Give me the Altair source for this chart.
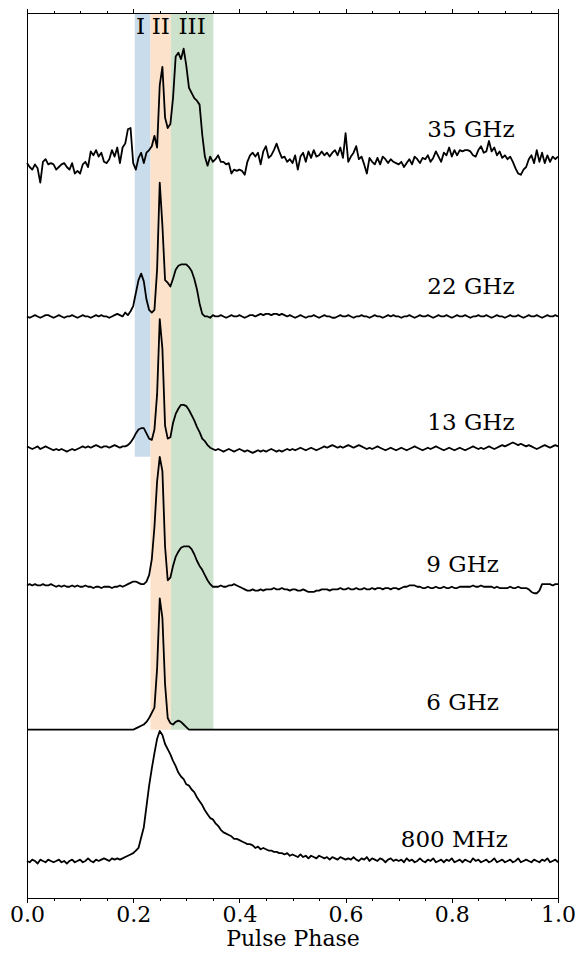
import altair as alt
import pandas as pd

# ---------------- data ----------------
N_BINS = 201
PHASE = [round(i * 0.005, 3) for i in range(N_BINS)]

PROFILE_NAMES = ["35 GHz", "22 GHz", "13 GHz", "9 GHz", "6 GHz", "800 MHz"]
# vertical offset of each stacked profile (same units as the intensities)
OFFSETS = [573, 455, 354, 248, 137, 36]

# intensities (main peak ~100)
P_35GHZ = [
    0, -3, -5, -1, -4, -15, 1, 3, -1, 0,
    -1, -5, -3, -1, 0, -3, -5, 0, -8, -6,
    -8, -1, 1, -3, 9, 6, 10, 5, 8, 1,
    0, 3, 10, 5, 12, 0, 12, 15, 26, 27,
    0, -5, 4, 8, 0, 8, 10, 13, 21, 12,
    60, 74, 35, 27, 30, 50, 82, 85, 80, 88,
    75, 58, 54, 50, 48, 45, 22, 5, -2, 5,
    1, 3, 6, 1, 1, -1, 0, -8, -5, -6,
    -5, -6, -9, 1, 6, 8, 5, 8, -1, 9,
    13, 4, 6, 10, 15, 9, 4, 5, 1, 3,
    0, 6, -5, 5, 8, 1, 9, 4, 10, 5,
    6, 9, 6, 8, 5, 8, 10, 6, 12, 4,
    23, 1, 5, 8, 13, 3, 5, -1, -8, 4,
    1, -1, 4, -1, 5, 3, 0, 3, 1, 0,
    -1, 1, -3, 0, 3, -1, 5, 3, 0, 4,
    3, 6, 1, 4, 9, 5, 1, 8, 6, 12,
    5, 10, 6, 10, 9, 10, 10, 9, 6, 5,
    10, 13, 8, 9, 17, 9, 12, 6, 9, 4,
    6, 3, 5, 1, -4, -8, -9, -5, -3, 3,
    6, 0, 10, 1, 8, 0, 6, 1, 5, 3,
    5,
]
P_22GHZ = [
    0, -1, 0, 1, 0, -1, 0, 1, 1, 0,
    -1, 0, 1, 0, -1, 0, 0, 1, 0, -1,
    0, 1, 0, 0, -1, 0, 1, 0, 1, 0,
    0, -1, 0, 1, 2, 1, 0, 3, 1, 4,
    8, 18, 28, 33, 27, 13, 5, 3, 5, 36,
    103, 70, 28, 26, 23, 29, 36, 39, 40, 40,
    40, 38, 35, 29, 21, 10, 2, 0, 0, -1,
    1, 0, 0, 1, 0, -1, 0, 1, 0, 0,
    1, 0, -1, 0, 1, 1, 0, 1, 2, 1,
    2, 2, 1, 2, 2, 1, 2, 1, 0, 1,
    0, -1, 0, 1, 0, -1, 0, 0, 1, 0,
    -1, 0, 1, 0, 0, -1, -1, 0, 1, 0,
    0, 1, 0, -1, 0, 0, 1, 0, 0, -1,
    0, 1, 0, 0, -1, 0, 1, 0, 1, 0,
    0, -1, 0, 0, 1, 0, -1, 0, 1, 0,
    0, 1, 0, -1, 0, 1, 0, 0, 1, 0,
    -1, 0, 1, 0, 0, 1, 0, -1, 0, 0,
    1, 0, 0, 1, 0, -1, 0, 1, 0, 0,
    -1, 0, 1, 0, 0, 1, 0, -1, 0, 1,
    0, 0, 1, 0, -1, 0, 1, 0, 0, 1,
    0,
]
P_13GHZ = [
    1, 0, -1, 0, 1, -1, 0, 1, 0, -1,
    -2, -1, -2, -1, -2, -3, -2, -1, -2, -1,
    0, 1, 0, 1, 0, 1, 2, 1, 0, 1,
    1, 0, 1, 2, 1, 0, 1, 1, 2, 4,
    7, 11, 14, 15, 15, 11, 7, 6, 14, 41,
    99, 76, 17, 7, 8, 19, 26, 30, 33, 33,
    32, 29, 25, 21, 16, 12, 7, 5, 2, 0,
    -1, -2, -1, -2, -3, -2, -1, -2, -3, -2,
    -1, -2, -3, -2, -3, -4, -3, -2, -3, -2,
    -3, -2, -1, -2, -3, -2, -3, -2, -1, -2,
    -1, -2, -1, 0, -1, -2, -1, 0, -1, -2,
    -1, 0, 1, 0, 1, 2, 1, 0, 1, 0,
    1, 2, 1, 0, 1, 2, 1, 0, -1, 0,
    -1, 0, 1, 0, -1, -2, -1, 0, -1, -2,
    -1, 0, -1, -2, -1, 0, 1, 0, -1, -2,
    -1, 0, -1, 0, 1, 0, -1, -2, -1, 0,
    -1, -2, -1, 0, -1, -2, -1, 0, 1, 0,
    -1, 0, -1, 0, 1, 0, -1, 0, 1, 2,
    1, 2, 3, 4, 3, 2, 3, 2, 1, 2,
    1, 0, -1, 0, 1, 2, 1, 0, 1, 2,
    1,
]
P_9GHZ = [
    0, 1, 0, 1, 0, 0, 1, 0, 0, 1,
    0, -1, 0, -1, 0, -1, -1, 0, -1, 0,
    -1, -1, 0, -1, -1, -2, -1, -1, -2, -1,
    -1, -1, -2, -1, -1, 0, -1, 0, 1, 2,
    3, 3, 2, 1, 1, 3, 8, 20, 45, 80,
    99, 88, 30, 4, 6, 15, 22, 26, 29, 30,
    30, 30, 28, 24, 19, 15, 12, 8, 4, 1,
    -1, -1, -1, 0, -1, -1, 0, 0, 1, 0,
    -1, -2, -3, -4, -4, -3, -4, -4, -3, -4,
    -3, -3, -3, -2, -3, -3, -2, -3, -3, -4,
    -3, -3, -4, -4, -3, -4, -5, -5, -5, -4,
    -4, -3, -3, -3, -4, -3, -3, -3, -2, -3,
    -3, -2, -3, -3, -2, -3, -3, -2, -3, -3,
    -2, -3, -2, -2, -3, -2, -2, -3, -2, -2,
    -3, -2, -1, -1, 0, 0, 0, -1, -1, -2,
    -2, -1, -2, -2, -1, -2, -2, -1, -2, -2,
    -1, -2, -2, -1, -1, -1, -1, -1, 0, -1,
    -1, 0, -1, -1, -1, -1, -2, -1, -2, -2,
    -2, -2, -1, -2, -2, -1, -2, -2, -2, -3,
    -5, -6, -6, -4, 1, 1, 1, 1, 0, 1,
    1,
]
P_6GHZ = [
    0, 0, 0, 0, 0, 0, 0, 0, 0, 0,
    0, 0, 0, 0, 0, 0, 0, 0, 0, 0,
    0, 0, 0, 0, 0, 0, 0, 0, 0, 0,
    0, 0, 0, 0, 0, 0, 0, 0, 0, 0,
    0, 1, 2, 3, 4, 6, 9, 13, 17, 47,
    101, 86, 35, 9, 5, 4, 6, 7, 6, 4,
    2, 0, 0, 0, 0, 0, 0, 0, 0, 0,
    0, 0, 0, 0, 0, 0, 0, 0, 0, 0,
    0, 0, 0, 0, 0, 0, 0, 0, 0, 0,
    0, 0, 0, 0, 0, 0, 0, 0, 0, 0,
    0, 0, 0, 0, 0, 0, 0, 0, 0, 0,
    0, 0, 0, 0, 0, 0, 0, 0, 0, 0,
    0, 0, 0, 0, 0, 0, 0, 0, 0, 0,
    0, 0, 0, 0, 0, 0, 0, 0, 0, 0,
    0, 0, 0, 0, 0, 0, 0, 0, 0, 0,
    0, 0, 0, 0, 0, 0, 0, 0, 0, 0,
    0, 0, 0, 0, 0, 0, 0, 0, 0, 0,
    0, 0, 0, 0, 0, 0, 0, 0, 0, 0,
    0, 0, 0, 0, 0, 0, 0, 0, 0, 0,
    0, 0, 0, 0, 0, 0, 0, 0, 0, 0,
    0,
]
P_800MHZ = [
    0, -1, 1, 0, -2, 1, 0, -1, 1, 0,
    -1, 0, 1, -1, 0, -2, 0, 1, -1, 0,
    1, -1, 0, 2, 0, -1, 1, 0, 1, 2,
    1, 0, 2, 1, 2, 1, 2, 3, 4, 5,
    6, 8, 10, 18, 26, 42, 58, 71, 83, 94,
    100, 97, 90, 86, 82, 77, 73, 68, 65, 63,
    59, 58, 55, 53, 49, 46, 43, 39, 36, 33,
    32, 29, 27, 24, 22, 21, 20, 19, 17, 17,
    16, 15, 14, 13, 13, 12, 10, 11, 9, 10,
    9, 8, 8, 7, 7, 6, 6, 5, 6, 4,
    5, 4, 3, 5, 3, 4, 2, 4, 3, 2,
    4, 3, 2, 3, 1, 3, 2, 1, 3, 2,
    1, 2, 1, 3, 1, 0, 2, 1, 3, 0,
    2, 1, 0, 2, 1, -1, 1, 2, 0, 1,
    0, 1, -1, 2, 0, 1, -1, 0, 2, 0,
    -1, 1, 0, 2, -1, 0, 1, -1, 1, 0,
    2, -1, 0, 1, -1, 1, 0, -1, 2, 0,
    1, -1, 0, 1, -1, 0, 2, -1, 0, 1,
    -1, 0, 1, -1, 0, 2, -1, 0, 1, 0,
    -1, 1, 0, -1, 1, 0, 2, -1, 0, 1,
    -1,
]
PROFILES = [P_35GHZ, P_22GHZ, P_13GHZ, P_9GHZ, P_6GHZ, P_800MHZ]

# frequency labels
LABEL_X = [0.754, 0.754, 0.754, 0.752, 0.752, 0.704]
LABEL_Y = [593, 472, 368, 258, 152, 47]

# shaded components
REGION_NAMES = ["I", "II", "III"]
REGION_START = [0.203, 0.2325, 0.271]
REGION_END = [0.2325, 0.271, 0.351]
REGION_BOTTOM = [347, 137, 137]
REGION_COLORS = ["#c9dcec", "#fde2cb", "#cde2cc"]
ROMAN_X = [0.214, 0.252, 0.311]
ROMAN_Y = [672, 672, 672]

TICK_VALUES = [round(i * 0.05, 2) for i in range(21)]
Y_MIN = 7.5
Y_MAX = 688.5

# ---------------- build ----------------
rows = []
for name, off, vals in zip(PROFILE_NAMES, OFFSETS, PROFILES):
    for ph, v in zip(PHASE, vals):
        rows.append({"profile": name, "phase": ph, "flux": off + v})
df = pd.DataFrame(rows)

regions = pd.DataFrame({
    "region": REGION_NAMES,
    "start": REGION_START,
    "end": REGION_END,
    "bottom": REGION_BOTTOM,
    "top": [Y_MAX] * len(REGION_NAMES),
})
labels_df = pd.DataFrame({"text": PROFILE_NAMES, "x": LABEL_X, "y": LABEL_Y})
roman_df = pd.DataFrame({"text": REGION_NAMES, "x": ROMAN_X, "y": ROMAN_Y})

FONT = "DejaVu Serif"
x_scale = alt.Scale(domain=[0, 1], nice=False, zero=False)
y_scale = alt.Scale(domain=[Y_MIN, Y_MAX], nice=False, zero=False)

major_test = "abs(datum.value * 5 - round(datum.value * 5)) < 0.001"
tick_size = {"condition": {"test": major_test, "value": 4.5}, "value": 2.5}

bottom_axis = alt.Axis(
    orient="bottom", values=TICK_VALUES,
    labelExpr=major_test + " ? format(datum.value, '.1f') : ''",
    tickSize=tick_size, tickColor="black", tickWidth=1,
    domain=True, domainColor="black", domainWidth=1, grid=False,
    labelFont=FONT, labelFontSize=22, labelColor="black",
    labelPadding=2, labelFlush=False, labelOverlap=False,
    title="Pulse Phase", titleFont=FONT, titleFontSize=22,
    titleFontWeight="normal", titleColor="black", titlePadding=3,
    zindex=1,
)
top_axis = alt.Axis(
    orient="top", values=TICK_VALUES, labels=False,
    tickSize=tick_size, tickColor="black", tickWidth=1,
    domain=True, domainColor="black", domainWidth=1, grid=False,
    title=None, zindex=1,
)

rects = alt.Chart(regions).mark_rect().encode(
    x=alt.X("start:Q", scale=x_scale, axis=top_axis),
    x2="end:Q",
    y=alt.Y("bottom:Q", scale=y_scale, axis=None),
    y2="top:Q",
    color=alt.Color("region:N",
                    scale=alt.Scale(domain=REGION_NAMES, range=REGION_COLORS),
                    legend=None),
)

lines = alt.Chart(df).mark_line(
    color="black", strokeWidth=1.8, strokeJoin="round"
).encode(
    x=alt.X("phase:Q", scale=x_scale, axis=bottom_axis),
    y=alt.Y("flux:Q", scale=y_scale, axis=None),
    detail="profile:N",
)

freq_text = alt.Chart(labels_df).mark_text(
    align="left", baseline="alphabetic", font=FONT, fontSize=23, color="black"
).encode(
    x=alt.X("x:Q", scale=x_scale, axis=None),
    y=alt.Y("y:Q", scale=y_scale, axis=None),
    text="text:N",
)

roman_text = alt.Chart(roman_df).mark_text(
    align="center", baseline="alphabetic", font=FONT, fontSize=23, color="black"
).encode(
    x=alt.X("x:Q", scale=x_scale, axis=None),
    y=alt.Y("y:Q", scale=y_scale, axis=None),
    text="text:N",
)

chart = alt.layer(rects, lines, freq_text, roman_text).resolve_axis(
    x="independent"
).properties(
    width=531, height=885,
    autosize=alt.AutoSizeParams(type="none"),
    padding={"left": 19, "top": 5, "right": 19, "bottom": 54},
).configure_view(stroke="black", strokeWidth=1)

chart.save("out.html", embed_options={"renderer": "svg", "actions": False})
